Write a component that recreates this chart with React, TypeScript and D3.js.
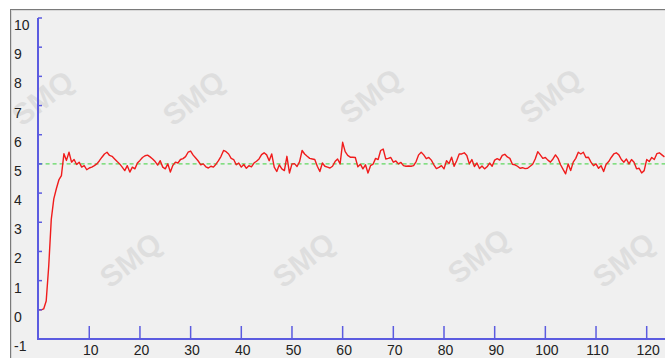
import React from "react";
import * as d3 from "d3";

const W = 665;
const H = 358;

// sample step of the signal (time units)
const STEP = 0.5;

const signal: number[] = [
  0.0, 0.0, 0.03, 0.3, 1.5, 3.1, 3.8, 4.15, 4.45, 4.6,
  5.35, 5.12, 5.40, 5.06, 5.15, 4.98, 5.06, 4.89, 4.94, 4.80,
  4.86, 4.89, 4.94, 5.0, 5.11, 5.23, 5.34, 5.40, 5.29, 5.26,
  5.17, 5.08, 5.0, 4.89, 4.77, 4.94, 4.72, 4.89, 4.83, 5.03,
  5.12, 5.22, 5.28, 5.30, 5.24, 5.17, 5.08, 4.96, 5.11, 4.89,
  4.83, 5.0, 4.72, 4.95, 5.06, 5.03, 5.15, 5.18, 5.25, 5.40,
  5.44, 5.30, 5.20, 5.10, 4.97, 5.0, 4.90, 4.86, 4.92, 4.89,
  4.99, 5.11, 5.26, 5.46, 5.42, 5.34, 5.19, 5.15, 4.97, 5.03,
  4.89, 4.98, 4.85, 4.94, 4.90, 5.03, 5.09, 5.17, 5.32, 5.38,
  5.31, 5.11, 5.34, 4.89, 4.74, 4.97, 4.83, 4.77, 5.26, 4.69,
  5.0, 5.01, 4.91, 5.08, 5.46, 5.34, 5.26, 5.19, 5.17, 5.15,
  4.92, 4.74, 5.03, 4.92, 4.89, 4.86, 4.92, 5.08, 5.17, 5.0,
  5.74, 5.42, 5.29, 5.23, 5.23, 5.22, 4.90, 4.99, 4.83, 4.97,
  4.69, 4.94, 4.99, 5.19, 5.15, 5.46, 5.51, 5.17, 5.19, 5.22,
  5.06, 5.10, 5.0, 5.05, 4.94, 4.92, 4.93, 4.92, 4.94, 5.08,
  5.31, 5.40, 5.31, 5.18, 5.22, 5.13, 4.97, 4.84, 4.88, 4.94,
  4.83, 5.11, 5.01, 5.23, 4.92, 5.11, 5.34, 5.34, 5.38, 5.29,
  5.0, 5.15, 4.91, 5.03, 4.84, 4.93, 4.83, 4.90, 5.03, 4.92,
  5.13, 5.18, 5.13, 5.29, 5.33, 5.24, 5.19, 4.99, 4.97, 4.92,
  4.85, 4.87, 4.84, 4.85, 4.92, 4.99, 5.17, 5.42, 5.31, 5.19,
  5.22, 5.13, 5.06, 5.17, 5.31, 5.19, 4.97, 4.81, 4.66, 5.0,
  4.77, 5.06, 5.19, 5.40, 5.34, 5.40, 5.22, 5.23, 5.06, 4.94,
  5.0, 4.85, 4.94, 4.74, 4.99, 5.08, 5.22, 5.34, 5.38, 5.31,
  5.15, 5.06, 5.17, 5.0, 5.15, 5.06, 4.83, 4.85, 4.69, 4.77,
  5.15, 5.08, 5.22, 5.15, 5.35, 5.38, 5.31, 5.24,
];

const setpoint = 5;
const xTicks = [10, 20, 30, 40, 50, 60, 70, 80, 90, 100, 110, 120];
const yTicks = [-1, 0, 1, 2, 3, 4, 5, 6, 7, 8, 9, 10];
const watermarks: [number, number][] = [
  [195, 100], [372, 98], [552, 98], [44, 100],
  [132, 262], [305, 262], [480, 258], [625, 262],
];

export default function App() {
  const x = d3.scaleLinear().domain([0, 120]).range([38.6, 646.7]);
  const y = d3.scaleLinear().domain([-1, 10]).range([339, 18]);
  const axisColor = "#5b5be0";

  const line = d3
    .line<number>()
    .x((_, i) => x(i * STEP))
    .y((d) => y(d));

  return (
    <svg
      width={W}
      height={H}
      style={{ position: "absolute", left: 0, top: 0 }}
      fontFamily="'Liberation Sans', Arial, sans-serif"
    >
      <rect x={0} y={0} width={W} height={H} fill="#ffffff" />
      <rect x={10} y={9} width={W} height={H} fill="#f0f0f0" />
      <line x1={10.5} y1={9} x2={10.5} y2={H} stroke="#7a7a7a" strokeWidth={1} />
      <line x1={10} y1={9.5} x2={W} y2={9.5} stroke="#7a7a7a" strokeWidth={1} />
      <line x1={11.5} y1={10} x2={11.5} y2={H} stroke="#d8d8d8" strokeWidth={1} />
      <line x1={11} y1={10.5} x2={W} y2={10.5} stroke="#d8d8d8" strokeWidth={1} />

      {watermarks.map(([wx, wy], i) => (
        <text
          key={"w" + i}
          x={wx}
          y={wy}
          transform={`rotate(-38 ${wx} ${wy})`}
          textAnchor="middle"
          dominantBaseline="middle"
          fontSize={30}
          fontWeight="bold"
          fill="#000"
          opacity={0.07}
        >
          SMQ
        </text>
      ))}

      {/* setpoint */}
      <line
        x1={x(0)}
        x2={W}
        y1={y(setpoint)}
        y2={y(setpoint)}
        stroke="#5fd75f"
        strokeWidth={1.2}
        strokeDasharray="4 3"
      />

      {/* signal */}
      <path d={line(signal) || ""} fill="none" stroke="#f01c1c" strokeWidth={1.4} strokeLinejoin="round" />

      {/* y axis */}
      <line x1={38} x2={38} y1={y(-1)} y2={y(10)} stroke={axisColor} strokeWidth={2} />
      {yTicks.map((t) => (
        <g key={"y" + t}>
          {t > -1 && (
            <line x1={38} x2={42} y1={y(t)} y2={y(t)} stroke={axisColor} strokeWidth={1.5} />
          )}
          <text x={14} y={y(t) + 12} fontSize={14} fill="#222">
            {t}
          </text>
        </g>
      ))}

      {/* x axis */}
      <line x1={37} x2={W} y1={y(-1)} y2={y(-1)} stroke={axisColor} strokeWidth={2} />
      {xTicks.map((t) => (
        <g key={"x" + t}>
          <line x1={x(t)} x2={x(t)} y1={y(-1)} y2={y(-1) - 13} stroke={axisColor} strokeWidth={1.5} />
          <text x={x(t) + 1.5} y={355} fontSize={14} textAnchor="middle" fill="#222">
            {t}
          </text>
        </g>
      ))}
    </svg>
  );
}
